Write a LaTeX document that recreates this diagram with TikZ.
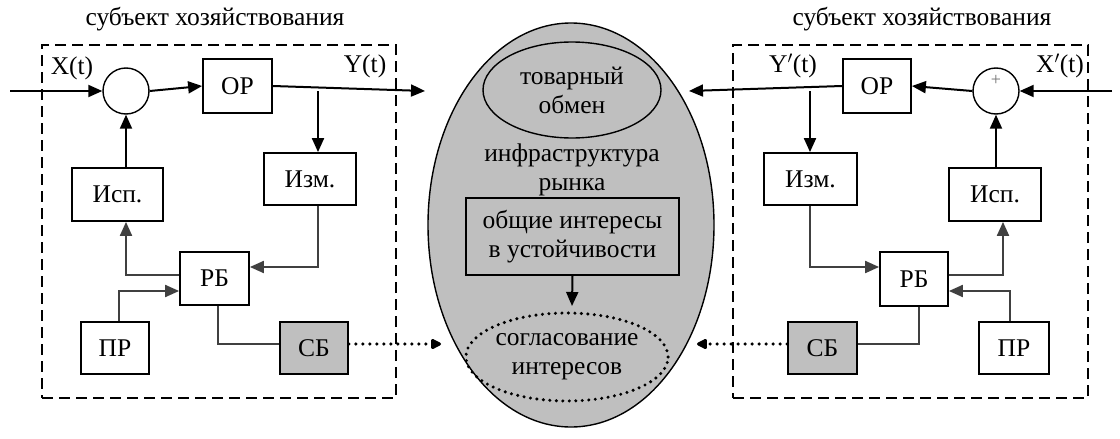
\documentclass[tikz,border=0pt]{standalone}
\usepackage{fontspec}
\setmainfont{Liberation Serif}
\usetikzlibrary{arrows.meta,shapes.geometric}
\begin{document}
\begin{tikzpicture}[x=1pt,y=-1pt,
  txt/.style={font=\fontsize{25.5}{29}\selectfont, align=center, inner sep=0pt},
  blk/.style={draw, line width=1.8pt, fill=white, txt},
  gblk/.style={blk, fill=black!25},
  sumc/.style={draw, circle, line width=1.4pt, fill=white, minimum size=46pt, inner sep=0pt},
  frame/.style={draw, dash pattern=on 11pt off 6pt, line width=1.8pt},
  arr/.style={line width=2pt, -{Triangle[length=14pt,width=12pt]}},
  ln/.style={line width=2pt, draw=black!75},
  garr/.style={ln, -{Triangle[length=14pt,width=12pt]}},
  dots/.style={line width=3.6pt, line cap=round, dash pattern=on 0pt off 7pt, -{Triangle[length=12pt,width=11pt,line cap=butt,round=false]}}
]
\useasboundingbox (0,0) rectangle (1120,439);
\fill[white] (0,0) rectangle (1120,439);

% titles
\node[txt] (titleL) at (215,19) {субъект хозяйствования};
\node[txt] (titleR) at (922,19) {субъект хозяйствования};

% frames
\node[frame, minimum width=354pt, minimum height=353pt] (frameL) at (219,221.5) {};
\node[frame, minimum width=355pt, minimum height=353pt] (frameR) at (910.5,221.5) {};

% central market
\node[draw, ellipse, line width=1.4pt, fill=black!25, minimum width=286pt, minimum height=404pt] (market) at (571,225) {};
\node[draw, ellipse, line width=1.4pt, minimum width=178pt, minimum height=96pt, txt] (exch) at (572,90) {товарный\\обмен};
\node[txt] (infra) at (572,170) {инфраструктура\\рынка};
\node[draw, line width=1.4pt, minimum width=213pt, minimum height=77pt, txt] (common) at (572.5,236.5) {общие интересы\\в устойчивости};
\node[draw, ellipse, line width=3.4pt, line cap=round, dash pattern=on 0pt off 6.5pt, minimum width=190pt, minimum height=88pt, txt] (agree) at (567,357) {согласование\\интересов};
\coordinate (agreetop) at (572,306);
\draw[arr] (common.south) -- (agreetop);

% ===== left subject =====
\node[sumc] (sumL) at (126,91) {};
\node[blk, minimum width=69pt, minimum height=54pt] (orL) at (237.5,86) {ОР};
\node[blk, minimum width=92pt, minimum height=52pt] (izmL) at (310,179) {Изм.};
\node[blk, minimum width=91pt, minimum height=53pt] (ispL) at (117.5,194.5) {Исп.};
\node[blk, minimum width=69pt, minimum height=53pt] (rbL) at (214.5,278.5) {РБ};
\node[blk, minimum width=68pt, minimum height=52pt] (prL) at (115,348) {ПР};
\node[gblk, minimum width=68pt, minimum height=52pt] (sbL) at (314,348) {СБ};
\node[txt] (xL) at (72,68) {X(t)};
\node[txt] (yL) at (365,66) {Y(t)};

\coordinate (inL) at (10,91);
\coordinate (outL) at (425,91);
\coordinate (brL) at (318,91);
\coordinate (dotL) at (441,344);

\draw[arr] (inL) -- (sumL.west);
\draw[arr] (sumL.east) -- (orL.west);
\draw[arr] (orL.east) -- (outL);
\draw[arr] (brL) -- (brL |- izmL.north);
\draw[garr] (brL |- izmL.south) -- (318,267) -- (rbL.east |- 0,267);
\draw[garr] (rbL.west |- 0,275) -- (126,275) -- (126 ,0 |- ispL.south);
\draw[arr] (126,0 |- ispL.north) -- (sumL.south);
\draw[garr] (119,0 |- prL.north) -- (119,291) -- (rbL.west |- 0,291);
\draw[ln] (218,0 |- rbL.south) -- (218,344) -- (sbL.west |- 0,344);
\draw[dots] (sbL.east |- 0,344) -- (dotL);

% ===== right subject =====
\node[sumc] (sumR) at (996,91) {};
\node[font=\fontsize{18}{18}\selectfont, inner sep=0pt, text=black!55] (plusR) at (996,80) {+};
\node[blk, minimum width=68pt, minimum height=54pt] (orR) at (877,86) {ОР};
\node[blk, minimum width=93pt, minimum height=52pt] (izmR) at (810.5,179) {Изм.};
\node[blk, minimum width=92pt, minimum height=53pt] (ispR) at (995,194.5) {Исп.};
\node[blk, minimum width=68pt, minimum height=54pt] (rbR) at (914,279) {РБ};
\node[blk, minimum width=70pt, minimum height=52pt] (prR) at (1014,348) {ПР};
\node[gblk, minimum width=69pt, minimum height=52pt] (sbR) at (822.5,348) {СБ};
\node[txt] (yR) at (793,66) {Y$'$(t)};
\node[txt] (xR) at (1060,66) {X$'$(t)};

\coordinate (inR) at (1112,91);
\coordinate (outR) at (689,91);
\coordinate (brR) at (810,91);
\coordinate (dotR) at (697,344);

\draw[arr] (inR) -- (sumR.east);
\draw[arr] (sumR.west) -- (orR.east);
\draw[arr] (orR.west) -- (outR);
\draw[arr] (brR) -- (brR |- izmR.north);
\draw[garr] (brR |- izmR.south) -- (810,267) -- (rbR.west |- 0,267);
\draw[garr] (rbR.east |- 0,275) -- (1003,275) -- (1003,0 |- ispR.south);
\draw[arr] (996,0 |- ispR.north) -- (sumR.south);
\draw[garr] (1010,0 |- prR.north) -- (1010,291) -- (rbR.east |- 0,291);
\draw[ln] (919,0 |- rbR.south) -- (919,344) -- (sbR.east |- 0,344);
\draw[dots] (sbR.west |- 0,344) -- (dotR);
\end{tikzpicture}
\end{document}
